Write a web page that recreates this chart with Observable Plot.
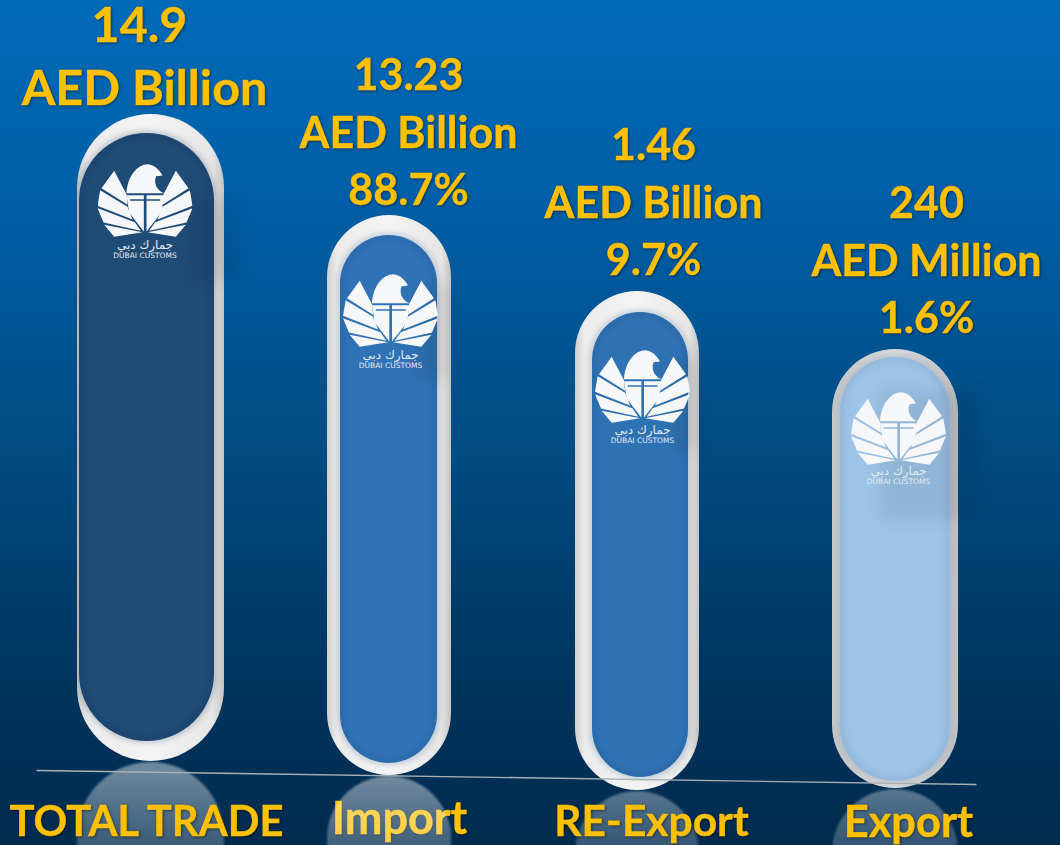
<!DOCTYPE html>
<html><head><meta charset="utf-8">
<script src="https://cdn.jsdelivr.net/npm/d3@7"></script>
<script src="https://cdn.jsdelivr.net/npm/@observablehq/plot@0.6"></script>
<style>html,body{margin:0;padding:0;background:#00467a;}svg{display:block}</style>
</head><body><div id="chart"></div>
<script>
// Categories and the values printed on the chart
const categories = ["TOTAL TRADE", "Import", "RE-Export", "Export"];
const amounts = ["14.9", "13.23", "1.46", "240"];
const units = ["AED Billion", "AED Billion", "AED Billion", "AED Million"];
const shares = ["", "88.7%", "9.7%", "1.6%"];

// Bar extents
const outerLeft = [77, 327, 575, 832];
const outerRight = [224, 451, 699, 958];
const outerTop = [114, 215, 291, 349];
const outerBottom = [761, 775, 790, 788];
const innerLeft = [79, 340, 592, 840];
const innerRight = [214, 437, 688, 950];
const innerTop = [133, 235, 312, 357];
const innerBottom = [741, 763, 777, 781];
const innerFill = ["#1f4b77", "#2f72b6", "#2f72b4", "#9dc3e7"];
const glowFill = ["#14304f", "#1f4f85", "#1f4f85", "#6f8fb0"];
const bezelFill = ["url(#bezel)", "url(#bezel)", "url(#bezel)", "url(#bezelGrey)"];
const reflFill = ["url(#refl)", "url(#refl)", "url(#reflDim)", "url(#reflDim)"];

// Text rows
const amountX = [139, 408, 653, 926], amountY = [26, 76, 146, 204];
const unitX = [144, 408, 653, 926], unitY = [89, 134, 204, 262];
const shareX = [0, 408, 653, 926], shareY = [0, 191, 261, 319];
const labelX = [146, 399, 651, 908], labelY = [822, 819, 822, 823];
const labelSize = [41.8, 45, 42.5, 43.4];
const topSize = [48.5, 43, 43, 43];

// Logo placement
const logoX = [144.5, 390, 642, 898], logoY = [200, 310, 386, 428];
const logoTextA = [245, 355, 430, 471], logoTextB = [255, 365, 440, 481];
const smudgeX1 = [190, 415, 672, 880], smudgeX2 = [240, 450, 700, 980];
const smudgeY1 = [200, 285, 360, 390], smudgeY2 = [280, 380, 450, 520];

const baseX = [36, 976], baseY = [770, 784];

const wing = "M160,210L122,262L200,312L197,280ZM118,268L110,315L215,356L200,318ZM110,322L128,365L240,390L222,364ZM130,372L160,408L245,394Z";
const body = "M197,277C200,225 230,190 262,190C280,192 295,205 305,224L286,226C278,242 285,268 310,277ZM197,283L249,283L249,295L208,295L208,300L249,300L249,392L205,335ZM257,283L310,283L302,335L257,392L257,300L298,300L298,295L257,295Z";
const eagle = "data:image/svg+xml;utf8," + encodeURIComponent(
  `<svg xmlns="http://www.w3.org/2000/svg" viewBox="110 188 285 222"><g fill="#f6f7f8"><path d="${wing}"/><path transform="translate(505,0) scale(-1,1)" d="${wing}"/><path d="${body}"/></g></svg>`);

const font = "Lato, 'Open Sans', sans-serif";
const idx = categories.map((_, i) => i);
const pill = (x1, x2, y1, y2, opts) => Plot.rect(idx, {
  x1: i => x1[i], x2: i => x2[i], y1: i => y1[i], y2: i => y2[i], ...opts
});

const defs = () => d3.create("svg:defs").html(`
  <linearGradient id="bg" x1="0" y1="0" x2="0" y2="1">
    <stop offset="0" stop-color="#006bb9"/><stop offset="0.25" stop-color="#005ea5"/>
    <stop offset="0.55" stop-color="#004a80"/><stop offset="0.8" stop-color="#00355e"/>
    <stop offset="1" stop-color="#002b4f"/></linearGradient>
  <linearGradient id="bezel" x1="0" y1="0" x2="1" y2="0">
    <stop offset="0" stop-color="#cfcfcf"/><stop offset="0.08" stop-color="#ececec"/>
    <stop offset="0.5" stop-color="#f4f4f4"/><stop offset="0.92" stop-color="#e6e6e6"/>
    <stop offset="1" stop-color="#c4c4c4"/></linearGradient>
  <linearGradient id="bezelGrey" x1="0" y1="0" x2="1" y2="0">
    <stop offset="0" stop-color="#c4c6c8"/><stop offset="0.5" stop-color="#d8d9da"/>
    <stop offset="1" stop-color="#c0c2c4"/></linearGradient>
  <linearGradient id="refl" x1="0" y1="0" x2="0" y2="0.4">
    <stop offset="0" stop-color="#fff" stop-opacity="0.44"/>
    <stop offset="1" stop-color="#fff" stop-opacity="0.2"/></linearGradient>
  <linearGradient id="reflDim" x1="0" y1="0" x2="0" y2="0.4">
    <stop offset="0" stop-color="#fff" stop-opacity="0.34"/>
    <stop offset="1" stop-color="#fff" stop-opacity="0.14"/></linearGradient>
`).node();

const one = (i, labels, xs, ys, size) => Plot.text([i], {
  x: xs[i], y: ys[i], text: () => labels[i],
  fill: "#ffc000", stroke: "#ffc000", strokeWidth: 0.4,
  fontFamily: font, fontWeight: 700, fontSize: size,
  imageFilter: "drop-shadow(1.5px 1.5px 1.5px rgba(0,0,0,0.45))"
});

const marks = [
  defs,
  Plot.rect([0], {x1: 0, x2: 1060, y1: 0, y2: 845, fill: "url(#bg)"}),
  // the Import label sits under its reflection, which veils it
  one(1, categories, labelX, labelY, labelSize[1]),
  ...idx.map(i => Plot.rect([i], {
    x1: outerLeft[i], x2: outerRight[i], y1: outerBottom[i] + 1, y2: 1000,
    rx: (outerRight[i] - outerLeft[i]) / 2, fill: reflFill[i], imageFilter: "blur(1px)"
  })),
  one(0, categories, labelX, labelY, labelSize[0]),
  one(2, categories, labelX, labelY, labelSize[2]),
  one(3, categories, labelX, labelY, labelSize[3]),
  ...idx.map(i => Plot.rect([i], {
    x1: outerLeft[i], x2: outerRight[i], y1: outerTop[i], y2: outerBottom[i],
    rx: (outerRight[i] - outerLeft[i]) / 2, fill: bezelFill[i]
  })),
  ...idx.map(i => Plot.rect([i], {
    x1: innerLeft[i], x2: innerRight[i], y1: innerTop[i], y2: innerBottom[i],
    rx: (innerRight[i] - innerLeft[i]) / 2, fill: innerFill[i]
  })),
  ...idx.map(i => Plot.rect([i], {
    x1: innerLeft[i] + 1, x2: innerRight[i] - 1, y1: innerTop[i] + 1, y2: innerBottom[i] - 1,
    rx: (innerRight[i] - innerLeft[i]) / 2 - 1, fill: "none",
    stroke: glowFill[i], strokeWidth: 3, strokeOpacity: 0.5, imageFilter: "blur(3px)"
  })),
  pill(smudgeX1, smudgeX2, smudgeY1, smudgeY2, {fill: "#000", fillOpacity: 0.07, imageFilter: "blur(7px)"}),
  Plot.image(idx, {x: i => logoX[i], y: i => logoY[i], src: () => eagle, width: 95, height: 74}),
  Plot.text(idx, {x: i => logoX[i], y: i => logoTextA[i], text: () => "جمارك دبي",
    fill: "#e4eaf0", fontFamily: "DejaVu Sans", fontSize: 12}),
  Plot.text(idx, {x: i => logoX[i], y: i => logoTextB[i], text: () => "DUBAI CUSTOMS",
    fill: "#e4eaf0", fontFamily: "DejaVu Sans", fontSize: 7.5}),
  ...idx.map(i => one(i, amounts, amountX, amountY, topSize[i])),
  ...idx.map(i => one(i, units, unitX, unitY, topSize[i])),
  ...idx.filter(i => shares[i] !== "").map(i => one(i, shares, shareX, shareY, topSize[i])),
  Plot.link([0], {x1: baseX[0], y1: baseY[0], x2: baseX[1], y2: baseY[1], stroke: "#a9b0b5", strokeWidth: 1.3})
];

const chart = Plot.plot({
  width: 1060, height: 845, margin: 0,
  style: {background: "transparent"},
  x: {domain: [0, 1060], range: [0, 1060], axis: null},
  y: {domain: [0, 845], range: [0, 845], axis: null},
  marks
});
document.getElementById("chart").appendChild(chart);
</script></body></html>
